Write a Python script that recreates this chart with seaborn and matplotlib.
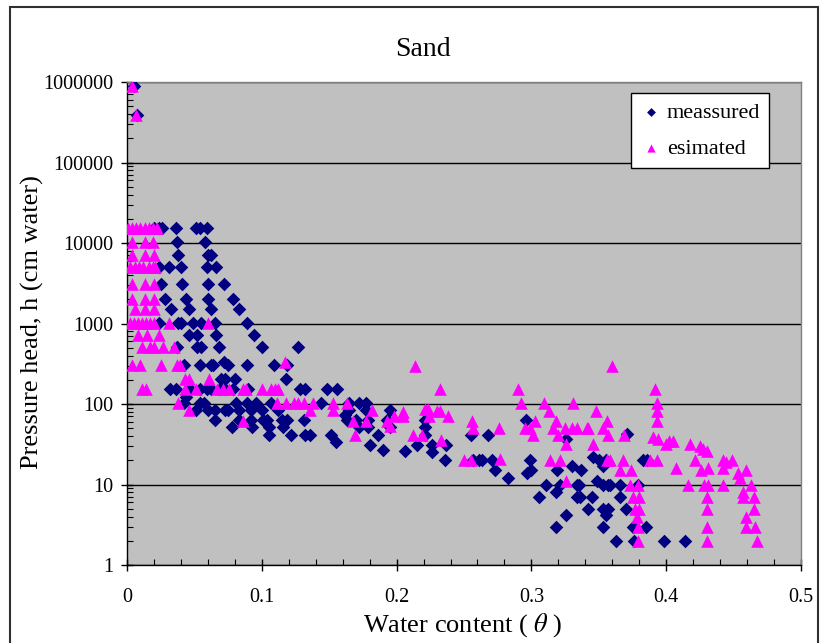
import pandas as pd
import seaborn as sns
import matplotlib.pyplot as plt
from matplotlib.patches import Rectangle
from matplotlib.ticker import FixedLocator, LogLocator, MultipleLocator, NullFormatter

# measured points (water content, pressure head)
measured_points = [
    (0.005, 880000), (0.0075, 390000),
    (0.020, 15300), (0.024, 15300), (0.026, 15300), (0.036, 15300), (0.051, 15300), (0.054, 15300), (0.059, 15300),
    (0.037, 10200), (0.058, 10200),
    (0.038, 7140), (0.060, 7140), (0.062, 7140),
    (0.024, 5100), (0.031, 5100), (0.040, 5100), (0.059, 5100), (0.066, 5100),
    (0.025, 3060), (0.041, 3060), (0.060, 3060), (0.072, 3060),
    (0.028, 2040), (0.044, 2040), (0.060, 2040), (0.079, 2040),
    (0.033, 1530), (0.046, 1530), (0.062, 1530), (0.083, 1530),
    (0.024, 1020), (0.038, 1020), (0.040, 1020), (0.049, 1020), (0.055, 1020), (0.065, 1020), (0.089, 1020),
    (0.046, 714), (0.052, 714), (0.066, 714), (0.094, 714),
    (0.037, 510), (0.052, 510), (0.055, 510), (0.068, 510), (0.100, 510), (0.127, 510),
    (0.042, 306), (0.054, 306), (0.062, 306), (0.064, 306), (0.072, 330), (0.075, 306), (0.089, 306),
    (0.109, 306), (0.119, 306),
    (0.070, 204), (0.073, 204), (0.080, 204), (0.118, 204),
    (0.032, 153), (0.036, 153), (0.047, 153), (0.054, 153), (0.059, 153), (0.062, 153), (0.069, 153),
    (0.073, 153), (0.079, 153), (0.090, 153), (0.128, 153), (0.132, 153), (0.148, 153), (0.156, 153),
    (0.044, 123),
    (0.042, 102), (0.054, 102), (0.057, 102), (0.081, 102), (0.089, 102), (0.096, 102), (0.107, 102),
    (0.144, 102), (0.165, 102), (0.172, 102), (0.177, 102),
    (0.051, 84), (0.060, 84), (0.065, 84), (0.073, 84), (0.075, 84), (0.083, 84), (0.092, 84), (0.100, 84),
    (0.112, 84), (0.165, 84), (0.177, 84), (0.195, 84), (0.162, 73),
    (0.065, 63), (0.083, 63), (0.092, 63), (0.101, 63), (0.104, 63), (0.115, 63), (0.119, 63), (0.131, 63),
    (0.163, 63), (0.170, 63), (0.179, 63), (0.193, 63), (0.221, 63), (0.296, 63),
    (0.078, 52), (0.093, 52), (0.105, 52), (0.116, 52), (0.172, 52), (0.179, 52), (0.195, 52), (0.221, 52),
    (0.105, 41), (0.122, 41), (0.132, 41), (0.136, 41), (0.151, 41), (0.186, 41), (0.221, 41), (0.255, 41),
    (0.268, 41), (0.371, 43), (0.326, 37), (0.155, 34),
    (0.180, 31), (0.215, 31), (0.226, 31), (0.237, 31), (0.190, 27), (0.206, 26), (0.226, 25),
    (0.236, 20), (0.257, 20), (0.261, 20), (0.263, 20), (0.271, 20), (0.299, 20), (0.346, 22), (0.350, 20),
    (0.355, 20), (0.383, 20), (0.386, 20),
    (0.330, 17), (0.353, 17), (0.273, 15), (0.300, 15), (0.319, 15), (0.337, 15), (0.297, 14), (0.283, 12),
    (0.349, 11),
    (0.311, 10), (0.321, 10), (0.334, 10), (0.335, 10), (0.353, 10), (0.357, 10), (0.358, 10), (0.366, 10),
    (0.379, 10), (0.318, 8),
    (0.306, 7), (0.334, 7), (0.336, 7), (0.345, 7), (0.366, 7),
    (0.342, 5), (0.353, 5), (0.357, 5), (0.370, 5), (0.326, 4.2), (0.355, 4.2),
    (0.318, 3), (0.353, 3), (0.375, 3), (0.385, 3),
    (0.363, 2), (0.376, 2), (0.398, 2), (0.414, 2),
]

# estimated points (water content, pressure head)
estimated_points = [
    (0.0035, 880000), (0.0065, 390000),
    (0.001, 15300), (0.004, 15300), (0.007, 15300), (0.010, 15300), (0.013, 15300), (0.016, 15300),
    (0.019, 15300), (0.022, 15300),
    (0.004, 10200), (0.013, 10200), (0.019, 10200),
    (0.004, 7140), (0.013, 7140), (0.020, 7140),
    (0.002, 5100), (0.006, 5100), (0.009, 5100), (0.012, 5100), (0.016, 5100), (0.019, 5100), (0.021, 5100),
    (0.004, 3060), (0.013, 3060), (0.020, 3060),
    (0.004, 2040), (0.013, 2040), (0.020, 2040),
    (0.006, 1530), (0.013, 1530), (0.020, 1530),
    (0.002, 1020), (0.005, 1020), (0.008, 1020), (0.011, 1020), (0.014, 1020), (0.017, 1020), (0.020, 1020),
    (0.031, 1020), (0.060, 1020),
    (0.008, 714), (0.015, 714), (0.024, 714),
    (0.011, 510), (0.017, 510), (0.020, 510), (0.027, 510), (0.035, 510),
    (0.004, 306), (0.010, 306), (0.025, 306), (0.037, 306), (0.039, 306), (0.117, 330), (0.214, 300),
    (0.360, 300),
    (0.043, 204), (0.046, 204), (0.061, 204),
    (0.011, 153), (0.014, 153), (0.043, 153), (0.051, 153), (0.067, 153), (0.071, 153), (0.076, 153),
    (0.086, 153), (0.088, 153), (0.100, 153), (0.107, 153), (0.110, 153), (0.112, 153), (0.232, 153),
    (0.290, 153), (0.392, 153),
    (0.038, 102), (0.111, 102), (0.118, 102), (0.124, 102), (0.127, 102), (0.131, 102), (0.138, 102),
    (0.153, 102), (0.163, 102), (0.292, 102), (0.309, 102), (0.331, 102), (0.393, 102),
    (0.046, 84), (0.136, 84), (0.153, 84), (0.182, 84), (0.205, 80), (0.221, 86), (0.223, 86), (0.230, 83),
    (0.232, 83), (0.313, 83), (0.348, 83), (0.393, 83),
    (0.198, 71), (0.205, 70), (0.224, 70), (0.238, 71),
    (0.086, 61), (0.168, 61), (0.177, 62), (0.193, 62), (0.256, 62), (0.303, 62), (0.318, 62), (0.356, 62),
    (0.393, 61),
    (0.195, 53), (0.257, 51), (0.276, 51), (0.295, 51), (0.299, 51), (0.316, 51), (0.325, 51), (0.330, 51),
    (0.334, 51), (0.341, 51), (0.342, 50), (0.353, 51),
    (0.169, 41), (0.212, 41), (0.219, 41), (0.301, 41), (0.320, 41), (0.357, 41), (0.369, 41),
    (0.233, 36), (0.390, 39), (0.394, 37), (0.402, 35), (0.405, 35),
    (0.326, 32), (0.346, 32), (0.400, 32), (0.418, 32),
    (0.425, 30), (0.427, 28), (0.430, 26),
    (0.250, 20), (0.255, 20), (0.277, 21), (0.314, 20), (0.321, 20), (0.356, 20), (0.358, 20), (0.368, 20),
    (0.388, 20), (0.393, 20), (0.421, 20), (0.442, 20), (0.444, 19), (0.449, 20),
    (0.407, 16), (0.431, 16), (0.442, 16), (0.366, 15), (0.374, 15), (0.426, 15), (0.459, 15),
    (0.453, 14), (0.455, 12), (0.326, 11),
    (0.373, 10), (0.379, 10), (0.416, 10), (0.428, 10), (0.431, 10), (0.442, 10), (0.463, 10),
    (0.457, 8),
    (0.375, 7), (0.380, 7), (0.430, 7), (0.457, 7), (0.465, 7),
    (0.377, 5), (0.380, 5), (0.430, 5), (0.465, 5),
    (0.378, 4), (0.459, 4),
    (0.379, 3), (0.430, 3), (0.459, 3), (0.466, 3),
    (0.379, 2), (0.430, 2), (0.467, 2),
]

x_ticks = [0, 0.1, 0.2, 0.3, 0.4, 0.5]
x_tick_labels = ["0", "0.1", "0.2", "0.3", "0.4", "0.5"]
y_ticks = [1, 10, 100, 1000, 10000, 100000, 1000000]
y_tick_labels = ["1", "10", "100", "1000", "10000", "100000", "1000000"]

meas = pd.DataFrame(measured_points, columns=["theta", "h"])
est = pd.DataFrame(estimated_points, columns=["theta", "h"])

plt.rcParams["font.family"] = ["Liberation Serif", "DejaVu Serif"]
plt.rcParams["mathtext.fontset"] = "stix"

fig = plt.figure(figsize=(8.25, 6.43), dpi=100)
ax = fig.add_axes([127 / 825, 1 - 565 / 643, 674 / 825, 483 / 643])
ax.set_facecolor("#C0C0C0")

sns.scatterplot(data=meas, x="theta", y="h", marker="D", s=48, color="#000080",
                linewidth=0, ax=ax, label="meassured", zorder=3)
sns.scatterplot(data=est, x="theta", y="h", marker="^", s=82, color="#FF00FF",
                linewidth=0, ax=ax, label="esimated", zorder=4)

ax.set_yscale("log")
ax.set_xlim(0, 0.5)
ax.set_ylim(1, 1000000)
ax.set_xticks(x_ticks)
ax.set_xticklabels(x_tick_labels)
ax.xaxis.set_minor_locator(MultipleLocator(0.02))
ax.yaxis.set_major_locator(FixedLocator(y_ticks))
ax.set_yticklabels(y_tick_labels)
ax.yaxis.set_minor_locator(LogLocator(base=10, subs=range(2, 10)))
ax.yaxis.set_minor_formatter(NullFormatter())
ax.tick_params(which="major", direction="inout", length=9, width=1, labelsize=14.5, color="black")
ax.tick_params(axis="y", which="major", pad=5)
ax.tick_params(axis="x", which="major", pad=12)
ax.tick_params(which="minor", direction="in", length=4, width=0.8, color="black")
ax.set_xlabel("")
ax.set_ylabel("")

ax.set_axisbelow(True)
ax.yaxis.grid(True, which="major", color="black", linewidth=1)
ax.xaxis.grid(False)
for side in ["left", "bottom"]:
    ax.spines[side].set_color("black")
    ax.spines[side].set_linewidth(1)
for side in ["top", "right"]:
    ax.spines[side].set_color("#808080")
    ax.spines[side].set_linewidth(1)

leg = ax.legend(loc="upper left", bbox_to_anchor=(0.748, 0.977), fontsize=16, frameon=True,
                fancybox=False, framealpha=1, edgecolor="black", markerscale=0.65,
                handletextpad=0.2, handlelength=1.0, labelspacing=0.7, borderpad=0.4,
                borderaxespad=0)
leg.get_frame().set_linewidth(1)

fig.text(423 / 825, 1 - 50 / 643, "Sand", fontsize=20, ha="center", va="center")
fig.text(32 / 825, 1 - 322 / 643, "Pressure head, h (cm water)", fontsize=19,
         rotation=90, ha="center", va="center")
fig.text(463 / 825, 1 - 625 / 643, r"Water content ( $\theta$ )", fontsize=19,
         ha="center", va="center")

fig.patches.append(Rectangle((10 / 825, -0.05), 808 / 825, 1.05 - 7 / 643, transform=fig.transFigure,
                             fill=False, edgecolor="#303030", linewidth=1.5))

fig.savefig("out.png", dpi=100)
